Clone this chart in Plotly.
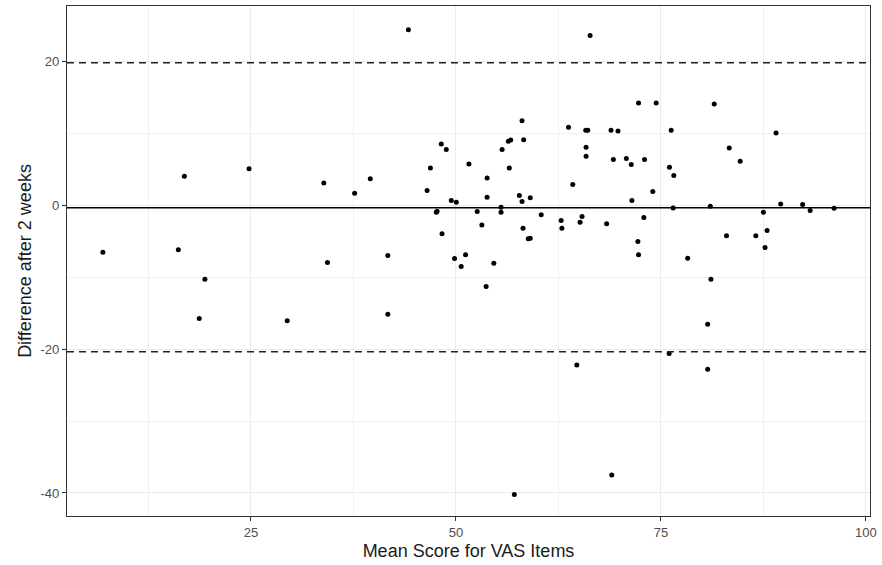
import plotly.graph_objects as go

mean_score = [16.87, 24.76, 33.88, 6.94, 16.14,
              44.2, 66.36, 37.64, 39.55, 46.48, 46.88, 48.21, 48.82, 49.43, 50.04,
              47.6, 47.7, 48.3, 51.58, 52.59, 53.16, 53.8, 53.8, 55.5, 55.5, 55.63,
              56.39, 56.68, 56.51, 57.73, 58.06, 58.06, 58.26, 58.18, 58.82, 59.06,
              59.06, 60.4, 62.83, 62.92, 63.73, 64.25, 65.14, 65.38, 65.83, 66.08,
              65.87, 65.87, 68.38, 41.69, 49.83, 51.17,
              72.27, 74.42, 81.5, 68.91, 69.76, 76.25, 89.04, 83.33, 84.67, 69.2,
              70.78, 71.38, 73.0, 76.04, 76.57, 74.01, 71.46, 76.49, 81.02, 89.61,
              92.28, 93.2, 96.12, 87.5, 87.95, 86.57, 83.0, 87.7, 72.92, 72.19,
              72.27, 78.26,
              19.38, 18.69, 29.42, 34.33, 41.69, 50.64, 54.62, 53.68, 64.74, 57.12,
              81.1, 80.7, 76.0, 80.7, 69.0]
difference = [4.03, 5.06, 3.1, -6.53, -6.2,
              24.4, 23.6, 1.67, 3.67, 2.04, 5.19, 8.53, 7.74, 0.65, 0.42,
              -0.97, -0.83, -3.97, 5.75, -0.88, -2.73, 3.8, 1.11, -0.28, -0.97, 7.74,
              8.89, 9.08, 5.19, 1.35, 0.51, 11.76, 9.12, -3.19, -4.67, -4.58,
              1.03, -1.33, -2.12, -3.19, 10.83, 2.87, -2.36, -1.57, 10.42, 10.42,
              8.06, 6.81, -2.58, -6.99, -7.4, -6.89,
              14.22, 14.22, 14.08, 10.42, 10.33, 10.42, 10.05, 7.97, 6.11, 6.35,
              6.49, 5.65, 6.35, 5.28, 4.13, 1.9, 0.65, -0.37, -0.14, 0.19,
              0.1, -0.74, -0.42, -0.97, -3.51, -4.25, -4.25, -5.87, -1.71, -5.04,
              -6.89, -7.36,
              -10.28, -15.74, -16.06, -7.96, -15.14, -8.51, -8.05, -11.29, -22.2, -40.2,
              -10.28, -16.53, -20.6, -22.8, -37.5]

mean_diff = -0.35
upper_loa = 19.8
lower_loa = -20.35

x_ticks = [25, 50, 75, 100]
x_minor = [12.5, 37.5, 62.5, 87.5]
y_ticks = [-40, -20, 0, 20]
y_tick_text = ["-40", "-20", "0", "20"]
y_minor = [-30, -10, 10]

fig = go.Figure()
fig.add_trace(go.Scatter(x=mean_score, y=difference, mode="markers",
                         marker=dict(color="black", size=5), showlegend=False,
                         hoverinfo="x+y"))

fig.add_hline(y=mean_diff, line=dict(color="black", width=1.5))
fig.add_hline(y=upper_loa, line=dict(color="#222222", width=1.5, dash="7px,5px"))
fig.add_hline(y=lower_loa, line=dict(color="#222222", width=1.5, dash="7px,5px"))

font = "Liberation Sans, Arial, sans-serif"
fig.update_layout(
    width=882, height=565,
    margin=dict(l=67, r=9, t=5, b=49),
    plot_bgcolor="white", paper_bgcolor="white",
    font=dict(family=font),
    xaxis=dict(range=[2.56, 100.5], tickvals=x_ticks, ticks="outside", ticklen=4,
               tickcolor="#333333", tickfont=dict(size=13, color="#4D4D4D"),
               showgrid=True, gridcolor="#EBEBEB", gridwidth=1.1,
               minor=dict(tickvals=x_minor, showgrid=True, gridcolor="#F0F0F0",
                          gridwidth=0.9, ticklen=0),
               showline=True, linecolor="#333333", linewidth=1.2, mirror=True,
               zeroline=False,
               title=dict(text="Mean Score for VAS Items",
                          font=dict(size=18, color="#1a1a1a"), standoff=5)),
    yaxis=dict(range=[-43.2, 27.7], tickvals=y_ticks, ticktext=y_tick_text,
               ticks="outside", ticklen=4, tickcolor="#333333",
               tickfont=dict(size=13, color="#4D4D4D"),
               showgrid=True, gridcolor="#EBEBEB", gridwidth=1.1,
               minor=dict(tickvals=y_minor, showgrid=True, gridcolor="#F0F0F0",
                          gridwidth=0.9, ticklen=0),
               showline=True, linecolor="#333333", linewidth=1.2, mirror=True,
               zeroline=False,
               title=dict(text="Difference after 2 weeks",
                          font=dict(size=18, color="#1a1a1a"), standoff=4)),
)

fig.write_html("out.html")
